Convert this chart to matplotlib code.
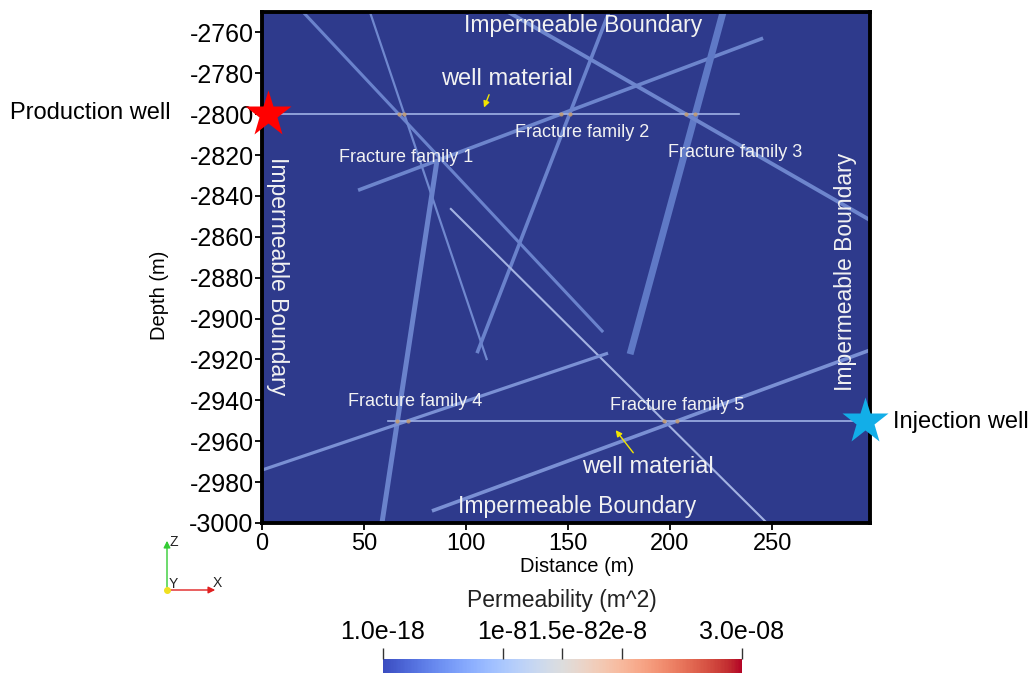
import numpy as np
import matplotlib
matplotlib.use("Agg")
import matplotlib.pyplot as plt
from matplotlib import cm
from matplotlib.colors import Normalize

plt.rcParams["font.family"] = ["Liberation Sans", "DejaVu Sans"]
plt.rcParams["axes.unicode_minus"] = False

# ---------------------------------------------------------------------------
# data (metres)
# ---------------------------------------------------------------------------
x_range = [0, 298]
depth_range = [-3000, -2750]
x_ticks = [0, 50, 100, 150, 200, 250]
depth_ticks = list(range(-3000, -2759, 20))

# fracture traces: start / end points
frac_x0 = [20.1, 52.9, 85.8, 47.1, 170.1, 226.0, 120.6, 92.2, 0.0, 83.3]
frac_y0 = [-2750.0, -2750.0, -2822.5, -2837.2, -2750.0, -2750.0, -2750.0, -2846.0, -2974.1, -2994.1]
frac_x1 = [167.2, 110.3, 58.8, 245.6, 105.4, 180.4, 298.0, 247.5, 169.6, 298.0]
frac_y1 = [-2906.6, -2920.3, -3000.0, -2762.8, -2916.9, -2917.4, -2851.8, -3000.0, -2916.9, -2915.4]

# horizontal wells
prod_well_x = [0.0, 234.0]
prod_well_depth = -2800.0
inj_well_x = [62.0, 298.0]
inj_well_depth = -2950.0

family_names = ["Fracture family 1", "Fracture family 2", "Fracture family 3",
                "Fracture family 4", "Fracture family 5"]
family_x = [70.6, 156.9, 231.9, 75.0, 203.4]
family_y = [-2821.0, -2808.8, -2818.6, -2940.8, -2942.3]

# permeability colour bar
perm_min, perm_max = 1e-18, 3e-8
perm_ticks = [1e-18, 1e-8, 1.5e-8, 2e-8, 3e-8]
perm_tick_labels = ["1.0e-18", "1e-8", "1.5e-8", "2e-8", "3.0e-08"]

# ---------------------------------------------------------------------------
# styles
# ---------------------------------------------------------------------------
frac_lw = [2.2, 1.6, 3.6, 2.6, 2.6, 5.0, 2.8, 1.5, 2.3, 2.6]
frac_col = ["#6a82cc", "#7088cf", "#6a82cc", "#6d85cd", "#6a82cc", "#5f79c6",
            "#6d85cd", "#a3b2e2", "#7a90d4", "#7a90d4"]
BG = "#2e3a8c"
TXT = "#f2f2f2"

W, H = 1031, 673
fig = plt.figure(figsize=(W / 100, H / 100), dpi=100)
ax = fig.add_axes([262 / W, 1 - 523 / H, (870 - 262) / W, (523 - 12) / H])
ax.set_facecolor(BG)

for x0, y0, x1, y1, lw, c in zip(frac_x0, frac_y0, frac_x1, frac_y1, frac_lw, frac_col):
    ax.plot([x0, x1], [y0, y1], color=c, lw=lw, solid_capstyle="butt", zorder=2)

ax.plot(prod_well_x, [prod_well_depth] * 2, color="#9fb2e6", lw=1.2, zorder=3)
ax.plot(inj_well_x, [inj_well_depth] * 2, color="#9fb2e6", lw=1.2, zorder=3)


# small orange dots where the wells cut the fractures
def crossings(wx, wy):
    pts = []
    for x0, y0, x1, y1 in zip(frac_x0, frac_y0, frac_x1, frac_y1):
        if (y0 - wy) * (y1 - wy) > 0 or y0 == y1:
            continue
        xc = x0 + (wy - y0) * (x1 - x0) / (y1 - y0)
        if wx[0] <= xc <= wx[1]:
            pts.append(xc)
    return pts


for wx, wy in [(prod_well_x, prod_well_depth), (inj_well_x, inj_well_depth)]:
    xs = crossings(wx, wy)
    ax.plot(xs, [wy] * len(xs), "o", ms=3, color="#c89a66", alpha=0.8, mec="none", zorder=4)

# wells as stars
ax.plot(3, prod_well_depth, marker="*", ms=35, color="#ff0000", mec="none", clip_on=False, zorder=6)
ax.plot(295.5, inj_well_depth, marker="*", ms=35, color="#12aee8", mec="none", clip_on=False, zorder=6)

# annotations
ax.text(157.4, -2756.5, "Impermeable Boundary", color=TXT, fontsize=16.5, ha="center", va="center")
ax.text(154.4, -2992.0, "Impermeable Boundary", color=TXT, fontsize=16.5, ha="center", va="center")
ax.text(7.8, -2879.0, "Impermeable Boundary", color=TXT, fontsize=16.5, ha="center", va="center",
        rotation=-90)
ax.text(285.8, -2877.0, "Impermeable Boundary", color=TXT, fontsize=16.5, ha="center", va="center",
        rotation=90)

for name, fx, fy in zip(family_names, family_x, family_y):
    ax.text(fx, fy, name, color=TXT, fontsize=13, ha="center", va="center")

ax.text(120.1, -2782.9, "well material", color=TXT, fontsize=17, ha="center", va="center")
ax.text(189.2, -2972.6, "well material", color=TXT, fontsize=17, ha="center", va="center")
arrow = dict(arrowstyle="-|>", color="#f2e600", lw=1, mutation_scale=9)
ax.annotate("", xy=(108.3, -2798.0), xytext=(111.8, -2789.2), arrowprops=arrow)
ax.annotate("", xy=(172.5, -2953.5), xytext=(182.8, -2966.7), arrowprops=arrow)

ax.set_xlim(x_range)
ax.set_ylim(depth_range)
ax.set_xticks(x_ticks)
ax.set_yticks(depth_ticks)
ax.tick_params(axis="y", labelsize=18, length=5, width=1.3, pad=1)
ax.tick_params(axis="x", labelsize=17, length=5, width=1.3, pad=2)
for s in ax.spines.values():
    s.set_linewidth(2.8)
    s.set_color("black")
ax.set_xlabel("Distance (m)", fontsize=14.5)
ax.set_ylabel("Depth (m)", fontsize=14.5)
ax.xaxis.set_label_coords(0.518, -0.067)
ax.yaxis.set_label_coords(-0.153, 0.446)

fig.text(10 / W, 1 - 113 / H, "Production well", fontsize=17, ha="left", va="center")
fig.text(893 / W, 1 - 422 / H, "Injection well", fontsize=17, ha="left", va="center")

# orientation triad
ox, oy = 167 / W, 1 - 590 / H
fig.add_artist(matplotlib.patches.FancyArrowPatch((ox, oy), (ox, 1 - 538 / H), transform=fig.transFigure,
               arrowstyle="-|>", mutation_scale=10, color="#33cc33", lw=1))
fig.add_artist(matplotlib.patches.FancyArrowPatch((ox, oy), (218 / W, oy), transform=fig.transFigure,
               arrowstyle="-|>", mutation_scale=10, color="#e02020", lw=1))
fig.add_artist(matplotlib.lines.Line2D([ox], [oy], marker="o", ms=4, color="#f0e020",
               transform=fig.transFigure))
fig.text(174 / W, 1 - 542 / H, "Z", fontsize=10, ha="center", va="center", color="#222222")
fig.text(217 / W, 1 - 583 / H, "X", fontsize=10, ha="center", va="center", color="#222222")
fig.text(173 / W, 1 - 584 / H, "Y", fontsize=10, ha="center", va="center", color="#222222")

# colour bar
cax = fig.add_axes([383 / W, 0, 359 / W, (673 - 659) / H])
sm = cm.ScalarMappable(norm=Normalize(perm_min, perm_max), cmap="coolwarm")
cb = fig.colorbar(sm, cax=cax, orientation="horizontal")
cb.outline.set_visible(False)
cax.xaxis.set_ticks_position("top")
cax.xaxis.set_label_position("top")
cb.set_ticks(perm_ticks)
cb.set_ticklabels(perm_tick_labels)
cax.tick_params(axis="x", direction="out", length=8, width=1, labelsize=18, pad=3, color="#333333")
fig.text(562 / W, 1 - 601 / H, "Permeability (m^2)", fontsize=16.5, ha="center", va="center",
         color="#222222")

fig.savefig("out.png", dpi=100)
